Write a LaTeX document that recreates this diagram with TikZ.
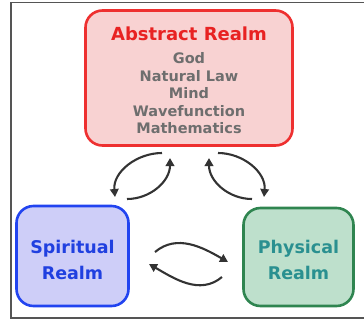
\documentclass[tikz,border=0pt]{standalone}
\usepackage{fontspec}
\setmainfont{DejaVu Sans}
\usetikzlibrary{arrows.meta}
\definecolor{absfill}{HTML}{F8D2D2}
\definecolor{absdraw}{HTML}{EE3030}
\definecolor{abstitle}{HTML}{E82222}
\definecolor{itemgray}{HTML}{6E6E6E}
\definecolor{spifill}{HTML}{CECEF8}
\definecolor{spidraw}{HTML}{2244F0}
\definecolor{spitext}{HTML}{2040E0}
\definecolor{phyfill}{HTML}{BEE0CC}
\definecolor{phydraw}{HTML}{2F8550}
\definecolor{phytext}{HTML}{2A9090}
\definecolor{framegray}{HTML}{555555}
\definecolor{arrowgray}{HTML}{333333}
\newcommand{\lowered}[2]{\raisebox{-#1}[\height][\depth]{#2}}
\tikzset{
  realm/.style={rectangle, rounded corners=17pt, line width=2.6pt,
    inner sep=0pt},
  cyc/.style={draw=arrowgray, line width=2.1pt,
    -{Triangle[length=8pt,width=8.5pt]}}
}
\begin{document}
\begin{tikzpicture}[x=1pt,y=-1pt]
\useasboundingbox (0,0) rectangle (364,322);
\draw[framegray, line width=1.4pt] (366,2.5) -- (11,2.5) -- (11,318) -- (366,318);
\node[realm, draw=absdraw, fill=absfill, minimum width=207pt, minimum height=135pt,
  text=itemgray, font=\bfseries\fontsize{14.5}{17.5}\selectfont]
  (abs) at (189,78)
  {\lowered{5pt}{\begin{tabular}{@{}c@{}}{\color{abstitle}\fontsize{18}{22}\selectfont Abstract Realm}\\[5.5pt]
   God\\Natural Law\\Mind\\Wavefunction\\Mathematics\end{tabular}}};
\node[realm, draw=spidraw, fill=spifill, text=spitext, minimum width=112pt, minimum height=100pt,
  font=\bfseries\fontsize{17.5}{26}\selectfont]
  (spi) at (72.5,256) {\lowered{5pt}{\begin{tabular}{@{}c@{}}Spiritual\\Realm\end{tabular}}};
\node[realm, draw=phydraw, fill=phyfill, text=phytext, minimum width=110pt, minimum height=98pt,
  font=\bfseries\fontsize{17.5}{26}\selectfont]
  (phy) at (298.5,257) {\lowered{4.5pt}{\begin{tabular}{@{}c@{}}Physical\\Realm\end{tabular}}};
\coordinate (a1s) at (162,153);
\coordinate (a1e) at (115,197);
\coordinate (a2s) at (127,199);
\coordinate (a2e) at (170,158);
\coordinate (a3s) at (218,153);
\coordinate (a3e) at (264,197);
\coordinate (a4s) at (252,199);
\coordinate (a4e) at (209,158);
\coordinate (b1s) at (155,252);
\coordinate (b1e) at (228,262);
\coordinate (b2s) at (222,277);
\coordinate (b2e) at (149,264);
\draw[cyc] (a1s) to[out=180,in=95] (a1e);
\draw[cyc] (a2s) to[out=0,in=-90] (a2e);
\draw[cyc] (a3s) to[out=0,in=85] (a3e);
\draw[cyc] (a4s) to[out=180,in=-90] (a4e);
\draw[cyc] (b1s) to[out=40,in=150] (b1e);
\draw[cyc] (b2s) to[out=-140,in=-30] (b2e);
\end{tikzpicture}
\end{document}
